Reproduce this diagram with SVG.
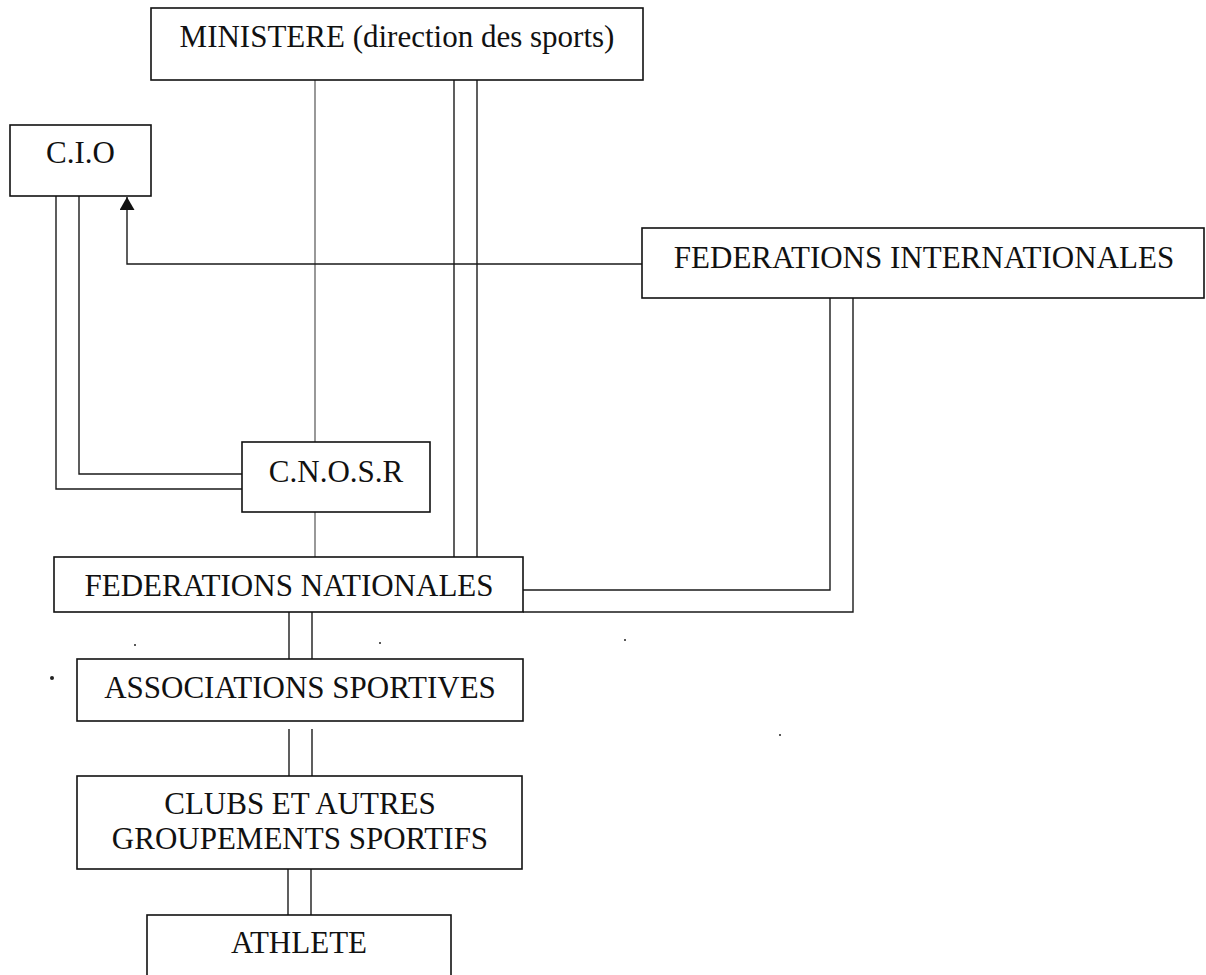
<svg xmlns="http://www.w3.org/2000/svg" width="1206" height="975" viewBox="0 0 1206 975">
<style>
.box{fill:#fff;stroke:#111;stroke-width:1.6}
.t{font-family:"Liberation Serif","Times New Roman",serif;font-size:31px;fill:#111;text-anchor:middle}
.c{fill:none;stroke:#1a1a1a;stroke-width:1.4}
.thin{fill:none;stroke:#444;stroke-width:1.1}
</style>
<defs>
<marker id="arr" markerUnits="userSpaceOnUse" viewBox="0 0 13 15" refX="13" refY="7.5" markerWidth="13" markerHeight="15" orient="auto">
<path d="M0,0 L13,7.5 L0,15 z" fill="#111"/>
</marker>
</defs>
<rect width="1206" height="975" fill="#fff"/>
<g id="connectors">
<path class="thin" d="M315,80 V442"/>
<path class="thin" d="M315,512 V557"/>
<path class="c" d="M454,80 V557"/>
<path class="c" d="M477,80 V557"/>
<path class="c" d="M56,196 V489 H242"/>
<path class="c" d="M79,196 V474 H242"/>
<path class="c" d="M642,264 H127 V197" marker-end="url(#arr)"/>
<path class="c" d="M830,298 V590 H523"/>
<path class="c" d="M853,298 V612 H523"/>
<path class="c" d="M289,612 V659"/>
<path class="c" d="M312,612 V659"/>
<path class="c" d="M289,729 V776"/>
<path class="c" d="M312,729 V776"/>
<path class="c" d="M288,869 V915"/>
<path class="c" d="M311,869 V915"/>
</g>
<g id="ministere">
<rect class="box" x="151" y="8" width="492" height="72"/>
<text class="t" x="397" y="47">MINISTERE (direction des sports)</text>
</g>
<g id="cio">
<rect class="box" x="10" y="125" width="141" height="71"/>
<text class="t" x="80.5" y="163">C.I.O</text>
</g>
<g id="fi">
<rect class="box" x="642" y="228" width="562" height="70"/>
<text class="t" x="924" y="268">FEDERATIONS INTERNATIONALES</text>
</g>
<g id="cnosr">
<rect class="box" x="242" y="442" width="188" height="70"/>
<text class="t" x="336" y="482">C.N.O.S.R</text>
</g>
<g id="fn">
<rect class="box" x="54" y="557" width="469" height="55"/>
<text class="t" x="289" y="596">FEDERATIONS NATIONALES</text>
</g>
<g id="associations">
<rect class="box" x="77" y="659" width="446" height="62"/>
<text class="t" x="300" y="698">ASSOCIATIONS SPORTIVES</text>
</g>
<g id="clubs">
<rect class="box" x="77" y="776" width="445" height="93"/>
<text class="t" x="300" y="814">CLUBS ET AUTRES</text>
<text class="t" x="300" y="849">GROUPEMENTS SPORTIFS</text>
</g>
<g id="athlete">
<rect class="box" x="147" y="915" width="304" height="70"/>
<text class="t" x="299" y="953">ATHLETE</text>
</g>
<g id="specks" fill="#222">
<circle cx="52" cy="678" r="2"/>
<circle cx="135" cy="645" r="1"/>
<circle cx="380" cy="643" r="1"/>
<circle cx="625" cy="640" r="1"/>
<circle cx="780" cy="735" r="1"/>
</g>
</svg>
